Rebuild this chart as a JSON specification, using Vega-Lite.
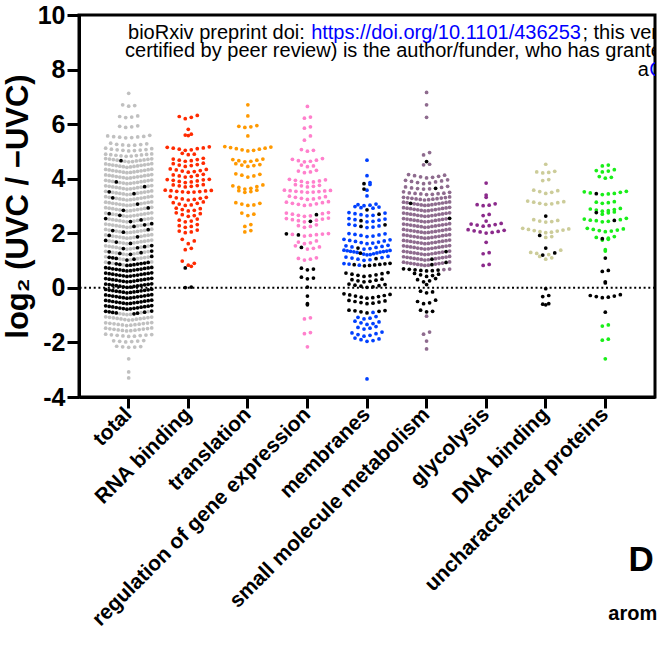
{
"$schema":"https://vega.github.io/schema/vega-lite/v6.json",
"width":576,"height":382,
"padding":{"left":2,"top":3,"right":0,"bottom":0},
"config":{"view":{"stroke":"black","strokeWidth":3},"font":"Liberation Sans",
"axis":{"labelFont":"Liberation Sans","titleFont":"Liberation Sans","labelColor":"black","titleColor":"black","domainColor":"black","tickColor":"black","domainWidth":3,"tickWidth":3,"grid":false,"labelFontWeight":"bold","titleFontWeight":"bold"}},
"resolve":{"scale":{"x":"independent"}},
"datasets":{"pts":[
{"c":0,"v":7.13},{"c":0,"v":6.66},{"c":0,"v":6.68},{"c":0,"v":6.71},{"c":0,"v":6.24},{"c":0,"v":6.26},{"c":0,"v":6.28},{"c":0,"v":6.3},{"c":0,"v":5.88},{"c":0,"v":5.9},{"c":0,"v":5.92},{"c":0,"v":5.94},
{"c":0,"v":5.5},{"c":0,"v":5.51},{"c":0,"v":5.52},{"c":0,"v":5.53},{"c":0,"v":5.54},{"c":0,"v":5.55},{"c":0,"v":5.57},{"c":0,"v":5.59},
{"c":0,"v":5.22},{"c":0,"v":5.23},{"c":0,"v":5.24},{"c":0,"v":5.25},{"c":0,"v":5.26},{"c":0,"v":5.28},{"c":0,"v":5.3},
{"c":0,"v":5.02},{"c":0,"v":5.03},{"c":0,"v":5.04},{"c":0,"v":5.05},{"c":0,"v":5.06},{"c":0,"v":5.07},{"c":0,"v":5.08},{"c":0,"v":5.1},{"c":0,"v":5.12},
{"c":0,"v":4.82},{"c":0,"v":4.83},{"c":0,"v":4.84},{"c":0,"v":4.85},{"c":0,"v":4.86},{"c":0,"v":4.87},{"c":0,"v":4.88},{"c":0,"v":4.89},{"c":0,"v":4.9},{"c":0,"v":4.91},
{"c":0,"v":4.62},{"c":0,"v":4.63},{"c":0,"v":4.64},{"c":0,"v":4.65},{"c":0,"v":4.66,"k":1},{"c":0,"v":4.67},{"c":0,"v":4.68},{"c":0,"v":4.69},{"c":0,"v":4.7},{"c":0,"v":4.71},{"c":0,"v":4.72},{"c":0,"v":4.73},{"c":0,"v":4.74},
{"c":0,"v":4.42},{"c":0,"v":4.43},{"c":0,"v":4.44},{"c":0,"v":4.45},{"c":0,"v":4.46},{"c":0,"v":4.47},{"c":0,"v":4.48},{"c":0,"v":4.49},{"c":0,"v":4.5},{"c":0,"v":4.51},{"c":0,"v":4.52},{"c":0,"v":4.53},{"c":0,"v":4.54},{"c":0,"v":4.55},
{"c":0,"v":4.22},{"c":0,"v":4.23},{"c":0,"v":4.24},{"c":0,"v":4.25},{"c":0,"v":4.26},{"c":0,"v":4.27},{"c":0,"v":4.28},{"c":0,"v":4.29},{"c":0,"v":4.3},{"c":0,"v":4.31},{"c":0,"v":4.32},{"c":0,"v":4.33},{"c":0,"v":4.34},{"c":0,"v":4.35},
{"c":0,"v":4.02},{"c":0,"v":4.03},{"c":0,"v":4.04},{"c":0,"v":4.05},{"c":0,"v":4.06},{"c":0,"v":4.07},{"c":0,"v":4.08},{"c":0,"v":4.09},{"c":0,"v":4.1},{"c":0,"v":4.11},{"c":0,"v":4.12},{"c":0,"v":4.13},{"c":0,"v":4.14},{"c":0,"v":4.15},
{"c":0,"v":3.82},{"c":0,"v":3.83},{"c":0,"v":3.84},{"c":0,"v":3.85},{"c":0,"v":3.86},{"c":0,"v":3.87},{"c":0,"v":3.88,"k":1},{"c":0,"v":3.89},{"c":0,"v":3.9},{"c":0,"v":3.91},{"c":0,"v":3.92},{"c":0,"v":3.93},{"c":0,"v":3.94},{"c":0,"v":3.95},
{"c":0,"v":3.62},{"c":0,"v":3.63},{"c":0,"v":3.64},{"c":0,"v":3.65},{"c":0,"v":3.66},{"c":0,"v":3.67},{"c":0,"v":3.68},{"c":0,"v":3.69},{"c":0,"v":3.7},{"c":0,"v":3.71,"k":1},{"c":0,"v":3.72},{"c":0,"v":3.73},{"c":0,"v":3.74},{"c":0,"v":3.75},
{"c":0,"v":3.42},{"c":0,"v":3.43},{"c":0,"v":3.44},{"c":0,"v":3.45,"k":1},{"c":0,"v":3.46},{"c":0,"v":3.47},{"c":0,"v":3.48},{"c":0,"v":3.49},{"c":0,"v":3.5},{"c":0,"v":3.51},{"c":0,"v":3.52,"k":1},{"c":0,"v":3.53},{"c":0,"v":3.54},{"c":0,"v":3.55},
{"c":0,"v":3.22},{"c":0,"v":3.23},{"c":0,"v":3.24},{"c":0,"v":3.25},{"c":0,"v":3.26},{"c":0,"v":3.27},{"c":0,"v":3.28},{"c":0,"v":3.29},{"c":0,"v":3.3,"k":1},{"c":0,"v":3.31},{"c":0,"v":3.32},{"c":0,"v":3.33},{"c":0,"v":3.34},{"c":0,"v":3.35},
{"c":0,"v":3.02},{"c":0,"v":3.03},{"c":0,"v":3.04},{"c":0,"v":3.05},{"c":0,"v":3.06},{"c":0,"v":3.07,"k":1},{"c":0,"v":3.08},{"c":0,"v":3.09},{"c":0,"v":3.1},{"c":0,"v":3.11},{"c":0,"v":3.12},{"c":0,"v":3.13},{"c":0,"v":3.14},{"c":0,"v":3.15},
{"c":0,"v":2.82},{"c":0,"v":2.83},{"c":0,"v":2.84,"k":1},{"c":0,"v":2.85},{"c":0,"v":2.86},{"c":0,"v":2.87},{"c":0,"v":2.88},{"c":0,"v":2.89},{"c":0,"v":2.9},{"c":0,"v":2.91},{"c":0,"v":2.92},{"c":0,"v":2.93,"k":1},{"c":0,"v":2.94},{"c":0,"v":2.95},
{"c":0,"v":2.62},{"c":0,"v":2.63},{"c":0,"v":2.64},{"c":0,"v":2.65},{"c":0,"v":2.66,"k":1},{"c":0,"v":2.67},{"c":0,"v":2.68},{"c":0,"v":2.69},{"c":0,"v":2.7},{"c":0,"v":2.71},{"c":0,"v":2.72,"k":1},{"c":0,"v":2.73},{"c":0,"v":2.74},{"c":0,"v":2.75},
{"c":0,"v":2.42},{"c":0,"v":2.43,"k":1},{"c":0,"v":2.44},{"c":0,"v":2.45},{"c":0,"v":2.46},{"c":0,"v":2.47},{"c":0,"v":2.48},{"c":0,"v":2.49,"k":1},{"c":0,"v":2.5},{"c":0,"v":2.51},{"c":0,"v":2.52},{"c":0,"v":2.53},{"c":0,"v":2.54,"k":1},{"c":0,"v":2.55},
{"c":0,"v":2.22},{"c":0,"v":2.23},{"c":0,"v":2.24},{"c":0,"v":2.25,"k":1},{"c":0,"v":2.26},{"c":0,"v":2.27},{"c":0,"v":2.28},{"c":0,"v":2.29},{"c":0,"v":2.3},{"c":0,"v":2.31,"k":1},{"c":0,"v":2.32},{"c":0,"v":2.33},{"c":0,"v":2.34},{"c":0,"v":2.35,"k":1},
{"c":0,"v":2.02},{"c":0,"v":2.03},{"c":0,"v":2.04,"k":1},{"c":0,"v":2.05},{"c":0,"v":2.06},{"c":0,"v":2.07},{"c":0,"v":2.08},{"c":0,"v":2.09},{"c":0,"v":2.1,"k":1},{"c":0,"v":2.11},{"c":0,"v":2.12},{"c":0,"v":2.13,"k":1},{"c":0,"v":2.14},{"c":0,"v":2.15},
{"c":0,"v":1.82},{"c":0,"v":1.83},{"c":0,"v":1.84},{"c":0,"v":1.85},{"c":0,"v":1.86},{"c":0,"v":1.87,"k":1},{"c":0,"v":1.88},{"c":0,"v":1.89},{"c":0,"v":1.9},{"c":0,"v":1.91},{"c":0,"v":1.92,"k":1},{"c":0,"v":1.93},{"c":0,"v":1.94},{"c":0,"v":1.95},
{"c":0,"v":1.62},{"c":0,"v":1.63,"k":1},{"c":0,"v":1.64},{"c":0,"v":1.65},{"c":0,"v":1.66},{"c":0,"v":1.67},{"c":0,"v":1.68,"k":1},{"c":0,"v":1.69},{"c":0,"v":1.7},{"c":0,"v":1.71},{"c":0,"v":1.72},{"c":0,"v":1.73},{"c":0,"v":1.74,"k":1},{"c":0,"v":1.75},
{"c":0,"v":1.42},{"c":0,"v":1.43},{"c":0,"v":1.44,"k":1},{"c":0,"v":1.45},{"c":0,"v":1.46},{"c":0,"v":1.47,"k":1},{"c":0,"v":1.48},{"c":0,"v":1.49},{"c":0,"v":1.5},{"c":0,"v":1.51,"k":1},{"c":0,"v":1.52},{"c":0,"v":1.53},{"c":0,"v":1.54},{"c":0,"v":1.55,"k":1},
{"c":0,"v":1.22},{"c":0,"v":1.23,"k":1},{"c":0,"v":1.24},{"c":0,"v":1.25},{"c":0,"v":1.26,"k":1},{"c":0,"v":1.27},{"c":0,"v":1.28},{"c":0,"v":1.29,"k":1},{"c":0,"v":1.3},{"c":0,"v":1.31},{"c":0,"v":1.32,"k":1},{"c":0,"v":1.33},{"c":0,"v":1.34},{"c":0,"v":1.35,"k":1},
{"c":0,"v":1.02,"k":1},{"c":0,"v":1.03},{"c":0,"v":1.04},{"c":0,"v":1.05,"k":1},{"c":0,"v":1.06},{"c":0,"v":1.07},{"c":0,"v":1.08,"k":1},{"c":0,"v":1.09},{"c":0,"v":1.1,"k":1},{"c":0,"v":1.11},{"c":0,"v":1.12,"k":1},{"c":0,"v":1.13},{"c":0,"v":1.14},{"c":0,"v":1.15,"k":1},
{"c":0,"v":0.82,"k":1},{"c":0,"v":0.83,"k":1},{"c":0,"v":0.84},{"c":0,"v":0.85,"k":1},{"c":0,"v":0.86,"k":1},{"c":0,"v":0.87,"k":1},{"c":0,"v":0.88,"k":1},{"c":0,"v":0.89,"k":1},{"c":0,"v":0.9},{"c":0,"v":0.91,"k":1},{"c":0,"v":0.92,"k":1},{"c":0,"v":0.93,"k":1},{"c":0,"v":0.94},{"c":0,"v":0.95},
{"c":0,"v":0.62,"k":1},{"c":0,"v":0.63,"k":1},{"c":0,"v":0.64,"k":1},{"c":0,"v":0.65,"k":1},{"c":0,"v":0.66,"k":1},{"c":0,"v":0.67,"k":1},{"c":0,"v":0.68,"k":1},{"c":0,"v":0.69,"k":1},{"c":0,"v":0.7,"k":1},{"c":0,"v":0.71,"k":1},{"c":0,"v":0.72,"k":1},{"c":0,"v":0.73,"k":1},{"c":0,"v":0.74,"k":1},{"c":0,"v":0.75,"k":1},
{"c":0,"v":0.42,"k":1},{"c":0,"v":0.43,"k":1},{"c":0,"v":0.44,"k":1},{"c":0,"v":0.45,"k":1},{"c":0,"v":0.46,"k":1},{"c":0,"v":0.47,"k":1},{"c":0,"v":0.48,"k":1},{"c":0,"v":0.49,"k":1},{"c":0,"v":0.5,"k":1},{"c":0,"v":0.51,"k":1},{"c":0,"v":0.52,"k":1},{"c":0,"v":0.53,"k":1},{"c":0,"v":0.54,"k":1},{"c":0,"v":0.55,"k":1},
{"c":0,"v":0.22,"k":1},{"c":0,"v":0.23,"k":1},{"c":0,"v":0.24,"k":1},{"c":0,"v":0.25,"k":1},{"c":0,"v":0.26,"k":1},{"c":0,"v":0.27,"k":1},{"c":0,"v":0.28,"k":1},{"c":0,"v":0.29,"k":1},{"c":0,"v":0.3,"k":1},{"c":0,"v":0.31,"k":1},{"c":0,"v":0.32,"k":1},{"c":0,"v":0.33,"k":1},{"c":0,"v":0.34,"k":1},{"c":0,"v":0.35,"k":1},
{"c":0,"v":0.02,"k":1},{"c":0,"v":0.03,"k":1},{"c":0,"v":0.04,"k":1},{"c":0,"v":0.05,"k":1},{"c":0,"v":0.06,"k":1},{"c":0,"v":0.07,"k":1},{"c":0,"v":0.08,"k":1},{"c":0,"v":0.09,"k":1},{"c":0,"v":0.1,"k":1},{"c":0,"v":0.11,"k":1},{"c":0,"v":0.12,"k":1},{"c":0,"v":0.13,"k":1},{"c":0,"v":0.14,"k":1},{"c":0,"v":0.15,"k":1},
{"c":0,"v":-0.18,"k":1},{"c":0,"v":-0.17,"k":1},{"c":0,"v":-0.16,"k":1},{"c":0,"v":-0.15,"k":1},{"c":0,"v":-0.14,"k":1},{"c":0,"v":-0.13,"k":1},{"c":0,"v":-0.12,"k":1},{"c":0,"v":-0.11,"k":1},{"c":0,"v":-0.1,"k":1},{"c":0,"v":-0.09,"k":1},{"c":0,"v":-0.08,"k":1},{"c":0,"v":-0.07,"k":1},{"c":0,"v":-0.06,"k":1},{"c":0,"v":-0.05,"k":1},
{"c":0,"v":-0.38,"k":1},{"c":0,"v":-0.37,"k":1},{"c":0,"v":-0.36,"k":1},{"c":0,"v":-0.35,"k":1},{"c":0,"v":-0.34,"k":1},{"c":0,"v":-0.33,"k":1},{"c":0,"v":-0.32,"k":1},{"c":0,"v":-0.31,"k":1},{"c":0,"v":-0.3,"k":1},{"c":0,"v":-0.29,"k":1},{"c":0,"v":-0.28,"k":1},{"c":0,"v":-0.27,"k":1},{"c":0,"v":-0.26,"k":1},{"c":0,"v":-0.25,"k":1},
{"c":0,"v":-0.58,"k":1},{"c":0,"v":-0.57,"k":1},{"c":0,"v":-0.56,"k":1},{"c":0,"v":-0.55,"k":1},{"c":0,"v":-0.54,"k":1},{"c":0,"v":-0.53,"k":1},{"c":0,"v":-0.52,"k":1},{"c":0,"v":-0.51,"k":1},{"c":0,"v":-0.5,"k":1},{"c":0,"v":-0.49,"k":1},{"c":0,"v":-0.48,"k":1},{"c":0,"v":-0.47,"k":1},{"c":0,"v":-0.46,"k":1},{"c":0,"v":-0.45,"k":1},
{"c":0,"v":-0.78,"k":1},{"c":0,"v":-0.77,"k":1},{"c":0,"v":-0.76,"k":1},{"c":0,"v":-0.75,"k":1},{"c":0,"v":-0.74,"k":1},{"c":0,"v":-0.73,"k":1},{"c":0,"v":-0.72,"k":1},{"c":0,"v":-0.71,"k":1},{"c":0,"v":-0.7,"k":1},{"c":0,"v":-0.69,"k":1},{"c":0,"v":-0.68,"k":1},{"c":0,"v":-0.67,"k":1},{"c":0,"v":-0.66,"k":1},{"c":0,"v":-0.65,"k":1},
{"c":0,"v":-0.98},{"c":0,"v":-0.97},{"c":0,"v":-0.96},{"c":0,"v":-0.95,"k":1},{"c":0,"v":-0.94},{"c":0,"v":-0.93,"k":1},{"c":0,"v":-0.92,"k":1},{"c":0,"v":-0.91},{"c":0,"v":-0.9,"k":1},{"c":0,"v":-0.89,"k":1},{"c":0,"v":-0.88,"k":1},{"c":0,"v":-0.87},{"c":0,"v":-0.86,"k":1},{"c":0,"v":-0.85,"k":1},
{"c":0,"v":-1.18},{"c":0,"v":-1.17},{"c":0,"v":-1.16},{"c":0,"v":-1.15},{"c":0,"v":-1.14},{"c":0,"v":-1.13},{"c":0,"v":-1.12},{"c":0,"v":-1.11},{"c":0,"v":-1.1},{"c":0,"v":-1.09},{"c":0,"v":-1.08},{"c":0,"v":-1.07},{"c":0,"v":-1.06},
{"c":0,"v":-1.38},{"c":0,"v":-1.37},{"c":0,"v":-1.36},{"c":0,"v":-1.35},{"c":0,"v":-1.34},{"c":0,"v":-1.33},{"c":0,"v":-1.32},{"c":0,"v":-1.31},{"c":0,"v":-1.3},{"c":0,"v":-1.29},{"c":0,"v":-1.28},{"c":0,"v":-1.27},
{"c":0,"v":-1.58},{"c":0,"v":-1.57},{"c":0,"v":-1.56},{"c":0,"v":-1.55},{"c":0,"v":-1.54},{"c":0,"v":-1.53},{"c":0,"v":-1.52},{"c":0,"v":-1.51},{"c":0,"v":-1.5},{"c":0,"v":-1.49},{"c":0,"v":-1.48},{"c":0,"v":-1.47},
{"c":0,"v":-1.78},{"c":0,"v":-1.77},{"c":0,"v":-1.76},{"c":0,"v":-1.75},{"c":0,"v":-1.74},{"c":0,"v":-1.73},{"c":0,"v":-1.72},{"c":0,"v":-1.71},{"c":0,"v":-1.7},
{"c":0,"v":-1.98},{"c":0,"v":-1.97},{"c":0,"v":-1.96},{"c":0,"v":-1.95},{"c":0,"v":-1.94},{"c":0,"v":-1.93},
{"c":0,"v":-2.18},{"c":0,"v":-2.17},{"c":0,"v":-2.16},{"c":0,"v":-2.15},{"c":0,"v":-2.14},
{"c":0,"v":-2.6},{"c":0,"v":-3.08},{"c":0,"v":-3.3},
{"c":1,"v":6.2},{"c":1,"v":6.25},{"c":1,"v":6.28},{"c":1,"v":6.32},{"c":1,"v":5.81},{"c":1,"v":5.58},{"c":1,"v":5.6},{"c":1,"v":5.63},
{"c":1,"v":5.04},{"c":1,"v":5.06},{"c":1,"v":5.08},{"c":1,"v":5.1},{"c":1,"v":5.12},{"c":1,"v":5.13},{"c":1,"v":5.15},{"c":1,"v":5.17},
{"c":1,"v":4.88},{"c":1,"v":4.9},{"c":1,"v":4.93},
{"c":1,"v":4.64},{"c":1,"v":4.66},{"c":1,"v":4.68},{"c":1,"v":4.7},{"c":1,"v":4.72},{"c":1,"v":4.75},
{"c":1,"v":4.45},{"c":1,"v":4.48},{"c":1,"v":4.5},{"c":1,"v":4.52},{"c":1,"v":4.55},{"c":1,"v":4.57},
{"c":1,"v":4.24},{"c":1,"v":4.26},{"c":1,"v":4.28},{"c":1,"v":4.3},{"c":1,"v":4.32},{"c":1,"v":4.34},{"c":1,"v":4.36},
{"c":1,"v":4.06},{"c":1,"v":4.08},{"c":1,"v":4.1},{"c":1,"v":4.12},{"c":1,"v":4.14},{"c":1,"v":4.16},
{"c":1,"v":3.86},{"c":1,"v":3.88},{"c":1,"v":3.9},{"c":1,"v":3.92},{"c":1,"v":3.94},{"c":1,"v":3.96},{"c":1,"v":3.97},{"c":1,"v":3.98},
{"c":1,"v":3.7},{"c":1,"v":3.72},{"c":1,"v":3.74},{"c":1,"v":3.75},{"c":1,"v":3.77},{"c":1,"v":3.78},
{"c":1,"v":3.5},{"c":1,"v":3.51},{"c":1,"v":3.52},{"c":1,"v":3.53},{"c":1,"v":3.54},{"c":1,"v":3.55},{"c":1,"v":3.56},{"c":1,"v":3.57},{"c":1,"v":3.58},
{"c":1,"v":3.22},{"c":1,"v":3.24},{"c":1,"v":3.26},{"c":1,"v":3.28},{"c":1,"v":3.3},{"c":1,"v":3.32},{"c":1,"v":3.35},
{"c":1,"v":3.02},{"c":1,"v":3.04},{"c":1,"v":3.07},{"c":1,"v":3.1},{"c":1,"v":3.12},{"c":1,"v":3.15},
{"c":1,"v":2.82},{"c":1,"v":2.84},{"c":1,"v":2.87},{"c":1,"v":2.9},{"c":1,"v":2.92},
{"c":1,"v":2.62},{"c":1,"v":2.65},{"c":1,"v":2.68},{"c":1,"v":2.72},{"c":1,"v":2.75},
{"c":1,"v":2.42},{"c":1,"v":2.45},{"c":1,"v":2.48},{"c":1,"v":2.52},
{"c":1,"v":2.22},{"c":1,"v":2.25},{"c":1,"v":2.28},{"c":1,"v":2.32},
{"c":1,"v":2.02},{"c":1,"v":2.05},{"c":1,"v":2.08},{"c":1,"v":2.12},
{"c":1,"v":1.78},{"c":1,"v":1.72},{"c":1,"v":1.62},{"c":1,"v":1.45},{"c":1,"v":1.4},{"c":1,"v":0.98},{"c":1,"v":0.9},{"c":1,"v":0.83},{"c":1,"v":0.79},
{"c":1,"v":0.73,"k":1},{"c":1,"v":0.01,"k":1},{"c":1,"v":0.03,"k":1},
{"c":2,"v":6.71},{"c":2,"v":6.3},{"c":2,"v":5.88},{"c":2,"v":5.9},{"c":2,"v":5.92},{"c":2,"v":5.95},{"c":2,"v":5.57},
{"c":2,"v":5.02},{"c":2,"v":5.04},{"c":2,"v":5.06},{"c":2,"v":5.08},{"c":2,"v":5.1},{"c":2,"v":5.12},{"c":2,"v":5.14},{"c":2,"v":5.16},{"c":2,"v":5.18},
{"c":2,"v":4.62},{"c":2,"v":4.64},{"c":2,"v":4.66},{"c":2,"v":4.68},{"c":2,"v":4.7},{"c":2,"v":4.72},
{"c":2,"v":4.45},{"c":2,"v":4.48},{"c":2,"v":4.5},{"c":2,"v":4.52},{"c":2,"v":4.55},
{"c":2,"v":4.06},{"c":2,"v":4.1},{"c":2,"v":4.13},{"c":2,"v":4.16},{"c":2,"v":4.18},
{"c":2,"v":3.62},{"c":2,"v":3.65},{"c":2,"v":3.68},{"c":2,"v":3.71},{"c":2,"v":3.74},{"c":2,"v":3.77},
{"c":2,"v":3.5},{"c":2,"v":3.53},{"c":2,"v":3.56},{"c":2,"v":3.58},
{"c":2,"v":3.02},{"c":2,"v":3.04},{"c":2,"v":3.07},{"c":2,"v":3.1},{"c":2,"v":3.12},
{"c":2,"v":2.65},{"c":2,"v":2.7},{"c":2,"v":2.74},{"c":2,"v":2.32},{"c":2,"v":2.25},{"c":2,"v":2.05},{"c":2,"v":2.1},
{"c":3,"v":6.65},{"c":3,"v":6.22},{"c":3,"v":6.26},{"c":3,"v":5.85},{"c":3,"v":5.9},{"c":3,"v":5.57},{"c":3,"v":5.41},
{"c":3,"v":5.01},{"c":3,"v":5.04},{"c":3,"v":5.07},
{"c":3,"v":4.62},{"c":3,"v":4.64},{"c":3,"v":4.66},{"c":3,"v":4.68},{"c":3,"v":4.71},{"c":3,"v":4.74},
{"c":3,"v":4.44},{"c":3,"v":4.47},{"c":3,"v":4.5},
{"c":3,"v":4.22},{"c":3,"v":4.25},{"c":3,"v":4.28},{"c":3,"v":4.31},
{"c":3,"v":3.86},{"c":3,"v":3.88},{"c":3,"v":3.9},{"c":3,"v":3.92},{"c":3,"v":3.94},{"c":3,"v":3.96},{"c":3,"v":3.98},
{"c":3,"v":3.7},{"c":3,"v":3.72},{"c":3,"v":3.74},{"c":3,"v":3.76},{"c":3,"v":3.78},
{"c":3,"v":3.5},{"c":3,"v":3.51},{"c":3,"v":3.52},{"c":3,"v":3.53},{"c":3,"v":3.54},{"c":3,"v":3.55},{"c":3,"v":3.56},{"c":3,"v":3.57},{"c":3,"v":3.58},
{"c":3,"v":3.24},{"c":3,"v":3.26},{"c":3,"v":3.28},{"c":3,"v":3.3},{"c":3,"v":3.32},{"c":3,"v":3.34},{"c":3,"v":3.36},
{"c":3,"v":3.02},{"c":3,"v":3.04},{"c":3,"v":3.06},{"c":3,"v":3.08},{"c":3,"v":3.1},{"c":3,"v":3.12},{"c":3,"v":3.14},{"c":3,"v":3.16},
{"c":3,"v":2.62},{"c":3,"v":2.64},{"c":3,"v":2.66},{"c":3,"v":2.68,"k":1},{"c":3,"v":2.7},{"c":3,"v":2.72},{"c":3,"v":2.74},{"c":3,"v":2.76},
{"c":3,"v":2.42},{"c":3,"v":2.44,"k":1},{"c":3,"v":2.46},{"c":3,"v":2.48},{"c":3,"v":2.5},{"c":3,"v":2.52},{"c":3,"v":2.54},{"c":3,"v":2.56},
{"c":3,"v":2.22},{"c":3,"v":2.25},{"c":3,"v":2.28},{"c":3,"v":2.31},
{"c":3,"v":1.9},{"c":3,"v":1.92},{"c":3,"v":1.94,"k":1},{"c":3,"v":1.95},{"c":3,"v":1.96},{"c":3,"v":1.97},{"c":3,"v":1.98,"k":1},{"c":3,"v":1.99},
{"c":3,"v":1.62},{"c":3,"v":1.65},{"c":3,"v":1.68},{"c":3,"v":1.72},
{"c":3,"v":1.42},{"c":3,"v":1.45},{"c":3,"v":1.48,"k":1},{"c":3,"v":1.5},{"c":3,"v":1.54},
{"c":3,"v":1.02},{"c":3,"v":1.05},{"c":3,"v":1.08},{"c":3,"v":1.1},
{"c":3,"v":0.66,"k":1},{"c":3,"v":0.69,"k":1},{"c":3,"v":0.72,"k":1},{"c":3,"v":0.33,"k":1},{"c":3,"v":0.36,"k":1},{"c":3,"v":0.39,"k":1},{"c":3,"v":0.03,"k":1},{"c":3,"v":-0.3,"k":1},{"c":3,"v":-0.58,"k":1},{"c":3,"v":-0.62,"k":1},
{"c":3,"v":-1.1},{"c":3,"v":-1.14},{"c":3,"v":-1.64},{"c":3,"v":-1.68},{"c":3,"v":-2.16},
{"c":4,"v":4.68},{"c":4,"v":4.11},{"c":4,"v":3.86},{"c":4,"v":3.82,"k":1},{"c":4,"v":3.79},{"c":4,"v":3.58},{"c":4,"v":3.62,"k":1},{"c":4,"v":3.37},
{"c":4,"v":3.01},{"c":4,"v":3.03},{"c":4,"v":3.05},{"c":4,"v":3.07},{"c":4,"v":2.92},{"c":4,"v":2.94},{"c":4,"v":2.96},{"c":4,"v":2.98},{"c":4,"v":2.86,"k":1},
{"c":4,"v":2.64},{"c":4,"v":2.66},{"c":4,"v":2.68},{"c":4,"v":2.7,"k":1},{"c":4,"v":2.72},{"c":4,"v":2.74},{"c":4,"v":2.76},
{"c":4,"v":2.42},{"c":4,"v":2.44},{"c":4,"v":2.46,"k":1},{"c":4,"v":2.48},{"c":4,"v":2.5},{"c":4,"v":2.52},{"c":4,"v":2.54},
{"c":4,"v":2.21},{"c":4,"v":2.23},{"c":4,"v":2.25,"k":1},{"c":4,"v":2.27},{"c":4,"v":2.29},{"c":4,"v":2.31,"k":1},{"c":4,"v":2.33},
{"c":4,"v":1.88},{"c":4,"v":1.9},{"c":4,"v":1.92},{"c":4,"v":1.94},{"c":4,"v":1.96},{"c":4,"v":1.98},{"c":4,"v":1.99},
{"c":4,"v":1.62},{"c":4,"v":1.64},{"c":4,"v":1.66},{"c":4,"v":1.68},{"c":4,"v":1.7},{"c":4,"v":1.72},{"c":4,"v":1.74},{"c":4,"v":1.76},{"c":4,"v":1.78},
{"c":4,"v":1.42},{"c":4,"v":1.44},{"c":4,"v":1.46,"k":1},{"c":4,"v":1.48},{"c":4,"v":1.5},{"c":4,"v":1.52},{"c":4,"v":1.54},{"c":4,"v":1.56},
{"c":4,"v":1.21},{"c":4,"v":1.22},{"c":4,"v":1.24},{"c":4,"v":1.25},{"c":4,"v":1.27,"k":1},{"c":4,"v":1.28},{"c":4,"v":1.3},{"c":4,"v":1.31},{"c":4,"v":1.32},{"c":4,"v":1.33},{"c":4,"v":1.34},{"c":4,"v":1.35},{"c":4,"v":1.36},{"c":4,"v":1.37},{"c":4,"v":1.38},
{"c":4,"v":1.01},{"c":4,"v":1.03},{"c":4,"v":1.05},{"c":4,"v":1.07,"k":1},{"c":4,"v":1.09},{"c":4,"v":1.11},{"c":4,"v":1.13},{"c":4,"v":1.15},
{"c":4,"v":0.81,"k":1},{"c":4,"v":0.82,"k":1},{"c":4,"v":0.83},{"c":4,"v":0.84,"k":1},{"c":4,"v":0.85,"k":1},{"c":4,"v":0.86,"k":1},{"c":4,"v":0.87},{"c":4,"v":0.88,"k":1},{"c":4,"v":0.89},{"c":4,"v":0.9,"k":1},
{"c":4,"v":0.42,"k":1},{"c":4,"v":0.44,"k":1},{"c":4,"v":0.46,"k":1},{"c":4,"v":0.48,"k":1},{"c":4,"v":0.5,"k":1},{"c":4,"v":0.52,"k":1},{"c":4,"v":0.54,"k":1},{"c":4,"v":0.56,"k":1},
{"c":4,"v":0.22,"k":1},{"c":4,"v":0.24,"k":1},{"c":4,"v":0.26,"k":1},{"c":4,"v":0.28,"k":1},{"c":4,"v":0.3,"k":1},{"c":4,"v":0.32,"k":1},
{"c":4,"v":0.02,"k":1},{"c":4,"v":0.04,"k":1},{"c":4,"v":0.06,"k":1},{"c":4,"v":0.08,"k":1},{"c":4,"v":0.1,"k":1},{"c":4,"v":0.12,"k":1},{"c":4,"v":0.14,"k":1},
{"c":4,"v":-0.38,"k":1},{"c":4,"v":-0.36,"k":1},{"c":4,"v":-0.34,"k":1},{"c":4,"v":-0.32,"k":1},{"c":4,"v":-0.3,"k":1},{"c":4,"v":-0.28,"k":1},{"c":4,"v":-0.26,"k":1},{"c":4,"v":-0.24,"k":1},{"c":4,"v":-0.22,"k":1},
{"c":4,"v":-0.58,"k":1},{"c":4,"v":-0.56,"k":1},{"c":4,"v":-0.54,"k":1},{"c":4,"v":-0.52,"k":1},{"c":4,"v":-0.5,"k":1},{"c":4,"v":-0.48,"k":1},{"c":4,"v":-0.46,"k":1},
{"c":4,"v":-0.92,"k":1},{"c":4,"v":-0.9},{"c":4,"v":-0.88,"k":1},{"c":4,"v":-0.86,"k":1},{"c":4,"v":-0.84,"k":1},{"c":4,"v":-0.83,"k":1},{"c":4,"v":-0.82,"k":1},
{"c":4,"v":-1.05},{"c":4,"v":-1.08},{"c":4,"v":-1.11},{"c":4,"v":-1.14},
{"c":4,"v":-1.22},{"c":4,"v":-1.25},{"c":4,"v":-1.28},{"c":4,"v":-1.31},{"c":4,"v":-1.34},
{"c":4,"v":-1.42},{"c":4,"v":-1.45},{"c":4,"v":-1.48},{"c":4,"v":-1.51},
{"c":4,"v":-1.62},{"c":4,"v":-1.65},{"c":4,"v":-1.68},{"c":4,"v":-1.71},{"c":4,"v":-1.74},{"c":4,"v":-1.77},
{"c":4,"v":-1.84},{"c":4,"v":-1.87},{"c":4,"v":-1.9},{"c":4,"v":-1.93},{"c":4,"v":-1.96},{"c":4,"v":-3.34},
{"c":5,"v":7.16},{"c":5,"v":6.71},{"c":5,"v":6.25},{"c":5,"v":4.96},{"c":5,"v":4.87},{"c":5,"v":4.63,"k":1},{"c":5,"v":4.53},{"c":5,"v":4.51},
{"c":5,"v":4.03},{"c":5,"v":4.05},{"c":5,"v":4.07},{"c":5,"v":4.09},{"c":5,"v":4.11},{"c":5,"v":4.13},{"c":5,"v":4.15},
{"c":5,"v":3.82},{"c":5,"v":3.84},{"c":5,"v":3.86},{"c":5,"v":3.88},{"c":5,"v":3.9},{"c":5,"v":3.92},{"c":5,"v":3.94},{"c":5,"v":3.96},
{"c":5,"v":3.62},{"c":5,"v":3.63},{"c":5,"v":3.64},{"c":5,"v":3.65,"k":1},{"c":5,"v":3.66},{"c":5,"v":3.68},{"c":5,"v":3.7},{"c":5,"v":3.72},
{"c":5,"v":3.42},{"c":5,"v":3.43},{"c":5,"v":3.44},{"c":5,"v":3.45},{"c":5,"v":3.46},{"c":5,"v":3.47},{"c":5,"v":3.48},{"c":5,"v":3.5},{"c":5,"v":3.52},
{"c":5,"v":3.22},{"c":5,"v":3.23},{"c":5,"v":3.24},{"c":5,"v":3.25},{"c":5,"v":3.26},{"c":5,"v":3.27},{"c":5,"v":3.28},{"c":5,"v":3.29},{"c":5,"v":3.3},{"c":5,"v":3.31},{"c":5,"v":3.32},{"c":5,"v":3.33},
{"c":5,"v":3.02},{"c":5,"v":3.03},{"c":5,"v":3.04},{"c":5,"v":3.05},{"c":5,"v":3.06},{"c":5,"v":3.07},{"c":5,"v":3.08},{"c":5,"v":3.09},{"c":5,"v":3.1,"k":1},{"c":5,"v":3.11},{"c":5,"v":3.12},{"c":5,"v":3.13},{"c":5,"v":3.14},{"c":5,"v":3.15},
{"c":5,"v":2.82},{"c":5,"v":2.83},{"c":5,"v":2.84},{"c":5,"v":2.85},{"c":5,"v":2.86},{"c":5,"v":2.87},{"c":5,"v":2.88},{"c":5,"v":2.89},{"c":5,"v":2.9},{"c":5,"v":2.91},{"c":5,"v":2.92},{"c":5,"v":2.93},{"c":5,"v":2.94},{"c":5,"v":2.95},
{"c":5,"v":2.62},{"c":5,"v":2.63},{"c":5,"v":2.64},{"c":5,"v":2.65},{"c":5,"v":2.66},{"c":5,"v":2.67},{"c":5,"v":2.68},{"c":5,"v":2.69},{"c":5,"v":2.7},{"c":5,"v":2.71},{"c":5,"v":2.72},{"c":5,"v":2.73},{"c":5,"v":2.74},{"c":5,"v":2.75},
{"c":5,"v":2.42},{"c":5,"v":2.43},{"c":5,"v":2.44},{"c":5,"v":2.45},{"c":5,"v":2.46},{"c":5,"v":2.47},{"c":5,"v":2.48},{"c":5,"v":2.49},{"c":5,"v":2.5},{"c":5,"v":2.51},{"c":5,"v":2.52},{"c":5,"v":2.53},{"c":5,"v":2.54},{"c":5,"v":2.55,"k":1},
{"c":5,"v":2.22},{"c":5,"v":2.23},{"c":5,"v":2.24},{"c":5,"v":2.25},{"c":5,"v":2.26},{"c":5,"v":2.27},{"c":5,"v":2.28},{"c":5,"v":2.29},{"c":5,"v":2.3},{"c":5,"v":2.31},{"c":5,"v":2.32},{"c":5,"v":2.33},{"c":5,"v":2.34},{"c":5,"v":2.35},
{"c":5,"v":2.02},{"c":5,"v":2.03},{"c":5,"v":2.04},{"c":5,"v":2.05},{"c":5,"v":2.06},{"c":5,"v":2.07},{"c":5,"v":2.08},{"c":5,"v":2.09},{"c":5,"v":2.1},{"c":5,"v":2.11},{"c":5,"v":2.12},{"c":5,"v":2.13},{"c":5,"v":2.14},{"c":5,"v":2.15},
{"c":5,"v":1.82},{"c":5,"v":1.83},{"c":5,"v":1.84},{"c":5,"v":1.85},{"c":5,"v":1.86},{"c":5,"v":1.87},{"c":5,"v":1.88},{"c":5,"v":1.89},{"c":5,"v":1.9},{"c":5,"v":1.91},{"c":5,"v":1.92},{"c":5,"v":1.93},{"c":5,"v":1.94},{"c":5,"v":1.95},
{"c":5,"v":1.62},{"c":5,"v":1.63},{"c":5,"v":1.64},{"c":5,"v":1.65},{"c":5,"v":1.66},{"c":5,"v":1.67},{"c":5,"v":1.68},{"c":5,"v":1.69},{"c":5,"v":1.7},{"c":5,"v":1.71},{"c":5,"v":1.72},{"c":5,"v":1.73},{"c":5,"v":1.74},{"c":5,"v":1.75},
{"c":5,"v":1.42},{"c":5,"v":1.43},{"c":5,"v":1.44},{"c":5,"v":1.45},{"c":5,"v":1.46},{"c":5,"v":1.47},{"c":5,"v":1.48},{"c":5,"v":1.49},{"c":5,"v":1.5},{"c":5,"v":1.51},{"c":5,"v":1.52},{"c":5,"v":1.53},{"c":5,"v":1.54},{"c":5,"v":1.55},
{"c":5,"v":1.22},{"c":5,"v":1.23},{"c":5,"v":1.24},{"c":5,"v":1.25},{"c":5,"v":1.26},{"c":5,"v":1.27},{"c":5,"v":1.28},{"c":5,"v":1.29},{"c":5,"v":1.3},{"c":5,"v":1.31},{"c":5,"v":1.32},{"c":5,"v":1.33,"k":1},{"c":5,"v":1.34},{"c":5,"v":1.35},
{"c":5,"v":1.02},{"c":5,"v":1.03},{"c":5,"v":1.04},{"c":5,"v":1.05,"k":1},{"c":5,"v":1.06},{"c":5,"v":1.07},{"c":5,"v":1.08},{"c":5,"v":1.09},{"c":5,"v":1.1},{"c":5,"v":1.11},{"c":5,"v":1.12},{"c":5,"v":1.13},{"c":5,"v":1.14},{"c":5,"v":1.15},
{"c":5,"v":0.82},{"c":5,"v":0.83},{"c":5,"v":0.84},{"c":5,"v":0.85,"k":1},{"c":5,"v":0.86},{"c":5,"v":0.87},{"c":5,"v":0.88},{"c":5,"v":0.89},{"c":5,"v":0.9},{"c":5,"v":0.91},{"c":5,"v":0.92},{"c":5,"v":0.93,"k":1},{"c":5,"v":0.94},{"c":5,"v":0.95},
{"c":5,"v":0.62,"k":1},{"c":5,"v":0.63,"k":1},{"c":5,"v":0.64,"k":1},{"c":5,"v":0.65,"k":1},{"c":5,"v":0.66,"k":1},{"c":5,"v":0.67},{"c":5,"v":0.68,"k":1},{"c":5,"v":0.69},{"c":5,"v":0.7,"k":1},
{"c":5,"v":0.42,"k":1},{"c":5,"v":0.45,"k":1},{"c":5,"v":0.48,"k":1},{"c":5,"v":0.5,"k":1},{"c":5,"v":0.53,"k":1},
{"c":5,"v":0.22,"k":1},{"c":5,"v":0.26,"k":1},{"c":5,"v":0.3,"k":1},{"c":5,"v":0.34,"k":1},{"c":5,"v":0.12,"k":1},
{"c":5,"v":-0.15,"k":1},{"c":5,"v":-0.18,"k":1},{"c":5,"v":-0.12,"k":1},{"c":5,"v":-0.45,"k":1},{"c":5,"v":-0.5,"k":1},{"c":5,"v":-0.55,"k":1},{"c":5,"v":-0.58,"k":1},{"c":5,"v":-0.82,"k":1},{"c":5,"v":-0.86,"k":1},{"c":5,"v":-0.88,"k":1},
{"c":5,"v":-1.04},{"c":5,"v":-1.62},{"c":5,"v":-1.7},{"c":5,"v":-1.95},{"c":5,"v":-2.24},
{"c":6,"v":3.84},{"c":6,"v":3.4},{"c":6,"v":3.32},{"c":6,"v":3.01},{"c":6,"v":3.03},{"c":6,"v":3.05},{"c":6,"v":3.08},{"c":6,"v":2.65},{"c":6,"v":2.69},{"c":6,"v":2.45},
{"c":6,"v":2.26},{"c":6,"v":2.28},{"c":6,"v":2.3},{"c":6,"v":2.32},{"c":6,"v":2.34},{"c":6,"v":2.36},
{"c":6,"v":2.01},{"c":6,"v":2.03},{"c":6,"v":2.05},{"c":6,"v":2.07},{"c":6,"v":2.09},{"c":6,"v":2.11},{"c":6,"v":2.13},
{"c":6,"v":1.67},{"c":6,"v":1.25},{"c":6,"v":1.29},{"c":6,"v":0.82},{"c":6,"v":0.86},
{"c":7,"v":4.53},{"c":7,"v":4.21},{"c":7,"v":4.23},{"c":7,"v":4.25},{"c":7,"v":4.27},{"c":7,"v":3.93},{"c":7,"v":3.97},
{"c":7,"v":3.46},{"c":7,"v":3.5},{"c":7,"v":3.53},{"c":7,"v":3.56},{"c":7,"v":3.58},
{"c":7,"v":3.06},{"c":7,"v":3.08},{"c":7,"v":3.1},{"c":7,"v":3.12},{"c":7,"v":3.14},{"c":7,"v":3.16},{"c":7,"v":3.18},
{"c":7,"v":2.63,"k":1},{"c":7,"v":2.41},{"c":7,"v":2.43},{"c":7,"v":2.45},{"c":7,"v":2.47},{"c":7,"v":2.5},
{"c":7,"v":2.02},{"c":7,"v":2.04},{"c":7,"v":2.06},{"c":7,"v":2.08},{"c":7,"v":2.1},{"c":7,"v":2.12},{"c":7,"v":2.14},{"c":7,"v":2.16},{"c":7,"v":2.18},
{"c":7,"v":1.92,"k":1},{"c":7,"v":1.85},{"c":7,"v":1.88},{"c":7,"v":1.46,"k":1},
{"c":7,"v":1.05},{"c":7,"v":1.1},{"c":7,"v":1.15},{"c":7,"v":1.22},{"c":7,"v":1.26},{"c":7,"v":1.3},{"c":7,"v":1.38},{"c":7,"v":1.2,"k":1},{"c":7,"v":1.28,"k":1},
{"c":7,"v":-0.03,"k":1},{"c":7,"v":-0.28,"k":1},{"c":7,"v":-0.32,"k":1},{"c":7,"v":-0.58,"k":1},{"c":7,"v":-0.6,"k":1},{"c":7,"v":-0.62,"k":1},
{"c":8,"v":4.47},{"c":8,"v":4.5},{"c":8,"v":4.25},{"c":8,"v":4.28},{"c":8,"v":4.3},{"c":8,"v":4.33},{"c":8,"v":4.02},{"c":8,"v":4.05},{"c":8,"v":4.08},
{"c":8,"v":3.42},{"c":8,"v":3.44},{"c":8,"v":3.46},{"c":8,"v":3.48},{"c":8,"v":3.5},{"c":8,"v":3.52},{"c":8,"v":3.54},{"c":8,"v":3.45,"k":1},
{"c":8,"v":3.1},{"c":8,"v":3.12},{"c":8,"v":3.14},{"c":8,"v":3.16},
{"c":8,"v":2.81},{"c":8,"v":2.83},{"c":8,"v":2.85},{"c":8,"v":2.87},{"c":8,"v":2.89},{"c":8,"v":2.91},{"c":8,"v":2.7},{"c":8,"v":2.75},{"c":8,"v":2.78},{"c":8,"v":2.76,"k":1},
{"c":8,"v":2.42},{"c":8,"v":2.44},{"c":8,"v":2.46},{"c":8,"v":2.48},{"c":8,"v":2.5},{"c":8,"v":2.52},{"c":8,"v":2.55},{"c":8,"v":2.47,"k":1},
{"c":8,"v":2.06},{"c":8,"v":2.08},{"c":8,"v":2.1},{"c":8,"v":2.12},{"c":8,"v":2.14},{"c":8,"v":2.16},{"c":8,"v":2.18},
{"c":8,"v":1.75},{"c":8,"v":1.78},{"c":8,"v":1.82},{"c":8,"v":1.85},{"c":8,"v":1.88},{"c":8,"v":1.8,"k":1},
{"c":8,"v":1.35},{"c":8,"v":1.4},{"c":8,"v":1.09,"k":1},{"c":8,"v":0.6,"k":1},{"c":8,"v":0.64,"k":1},{"c":8,"v":0.18,"k":1},{"c":8,"v":0.22,"k":1},
{"c":8,"v":-0.25,"k":1},{"c":8,"v":-0.28,"k":1},{"c":8,"v":-0.3,"k":1},{"c":8,"v":-0.32,"k":1},{"c":8,"v":-0.34,"k":1},{"c":8,"v":-0.36,"k":1},{"c":8,"v":-0.89,"k":1},
{"c":8,"v":-1.36},{"c":8,"v":-1.4},{"c":8,"v":-1.88},{"c":8,"v":-1.92},{"c":8,"v":-2.6}
]},
"layer":[
{"data":{"name":"pts"},
 "transform":[
  {"bin":{"step":0.2},"field":"v","as":"b"},
  {"joinaggregate":[{"op":"count","as":"n"}],"groupby":["c","b"]},
  {"window":[{"op":"row_number","as":"r"}],"sort":[{"field":"v","order":"ascending"}],"groupby":["c","b"]},
  {"calculate":"((datum.r % 2 == 0 ? 1 : -1) * floor(datum.r / 2) - (datum.n % 2 == 0 ? 0.5 : 0)) * min(6, 46 / max(datum.n - 1, 1))","as":"o"},
  {"calculate":"datum.k ? 9 : datum.c","as":"col"}
 ],
 "mark":{"type":"circle","size":14,"opacity":1},
 "encoding":{
  "x":{"field":"c","type":"nominal","scale":{"domain":[0,1,2,3,4,5,6,7,8],"paddingInner":0,"paddingOuter":0.334},
   "axis":{"title":null,"labelExpr":"['total','RNA binding','translation','regulation of gene expression','membranes','small molecule metabolism','glycolysis','DNA binding','uncharacterized proteins'][datum.value]","labelAngle":-45,"labelAlign":"right","labelBaseline":"middle","labelFontSize":21,"labelPadding":3,"labelLimit":500,"labelOverlap":false,"labelBound":false,"tickSize":11}},
  "xOffset":{"field":"o","type":"quantitative","scale":{"domain":[-29.75,29.75]}},
  "y":{"field":"v","type":"quantitative","scale":{"domain":[-4,10],"nice":false,"zero":false},
   "axis":{"values":[-4,-2,0,2,4,6,8,10],"labelExpr":"'' + datum.value","title":"log₂ (UVC / −UVC)","titleFontSize":31,"titlePadding":3,"labelFontSize":25,"labelPadding":2,"tickSize":12}},
  "color":{"field":"col","type":"nominal","scale":{"domain":[0,1,2,3,4,5,6,7,8,9],"range":["#c0c0c0","#ff2a00","#ff9900","#ff80cc","#0040ff","#8e6b8e","#8b2a8b","#cccc99","#19ee19","#000000"]},"legend":null},
  "order":{"field":"col","type":"quantitative"}
 }},
{"data":{"values":[{}]},"mark":{"type":"rule","strokeDash":[2,2.7],"strokeWidth":2,"color":"black"},
 "encoding":{"y":{"datum":0,"type":"quantitative"}}},
{"data":{"values":[{"t":"bioRxiv preprint doi: "}]},"mark":{"type":"text","align":"left","baseline":"alphabetic","fontSize":20,"color":"black","clip":true},
 "encoding":{"text":{"field":"t"},"x":{"datum":8.51,"type":"quantitative","scale":{"domain":[0,100]},"axis":null},"y":{"datum":9.11,"type":"quantitative"}}},
{"data":{"values":[{"t":"https://doi.org/10.1101/436253"}]},"mark":{"type":"text","align":"left","baseline":"alphabetic","fontSize":20,"color":"#0000ff","clip":true},
 "encoding":{"text":{"field":"t"},"x":{"datum":40.3,"type":"quantitative","scale":{"domain":[0,100]},"axis":null},"y":{"datum":9.11,"type":"quantitative"}}},
{"data":{"values":[{"t":"; this version posted October 8, 2018. The copyright holder"}]},"mark":{"type":"text","align":"left","baseline":"alphabetic","fontSize":20,"color":"black","clip":true},
 "encoding":{"text":{"field":"t"},"x":{"datum":87.4,"type":"quantitative","scale":{"domain":[0,100]},"axis":null},"y":{"datum":9.11,"type":"quantitative"}}},
{"data":{"values":[{"t":"certified by peer review) is the author/funder, who has granted bioRxiv a license"}]},"mark":{"type":"text","align":"left","baseline":"alphabetic","fontSize":20,"color":"black","clip":true},
 "encoding":{"text":{"field":"t"},"x":{"datum":7.99,"type":"quantitative","scale":{"domain":[0,100]},"axis":null},"y":{"datum":8.45,"type":"quantitative"}}},
{"data":{"values":[{"t":"a"}]},"mark":{"type":"text","align":"left","baseline":"alphabetic","fontSize":20,"color":"black","clip":true},
 "encoding":{"text":{"field":"t"},"x":{"datum":97.0,"type":"quantitative","scale":{"domain":[0,100]},"axis":null},"y":{"datum":7.76,"type":"quantitative"}}},
{"data":{"values":[{"t":"CC-BY 4.0 International license"}]},"mark":{"type":"text","align":"left","baseline":"alphabetic","fontSize":20,"color":"#0000ff","clip":true},
 "encoding":{"text":{"field":"t"},"x":{"datum":99.0,"type":"quantitative","scale":{"domain":[0,100]},"axis":null},"y":{"datum":7.76,"type":"quantitative"}}},
{"data":{"values":[{"t":"D"}]},"mark":{"type":"text","align":"center","baseline":"alphabetic","fontSize":35,"fontWeight":"bold","color":"black"},
 "encoding":{"text":{"field":"t"},"x":{"datum":97.6,"type":"quantitative","scale":{"domain":[0,100]},"axis":null},"y":{"datum":-10.36,"type":"quantitative"}}},
{"data":{"values":[{"t":"arom"}]},"mark":{"type":"text","align":"left","baseline":"alphabetic","fontSize":20,"fontWeight":"bold","color":"black"},
 "encoding":{"text":{"field":"t"},"x":{"datum":91.9,"type":"quantitative","scale":{"domain":[0,100]},"axis":null},"y":{"datum":-12.17,"type":"quantitative"}}}
]
}
